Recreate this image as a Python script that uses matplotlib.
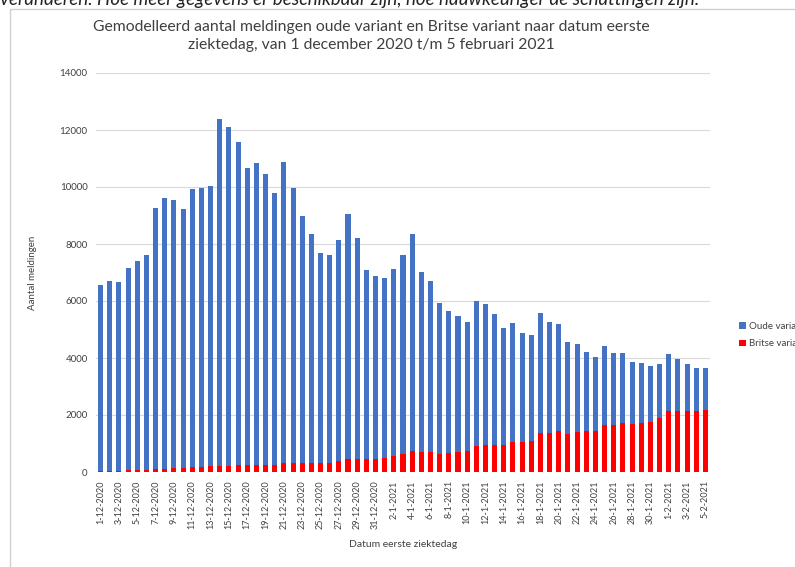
import matplotlib.pyplot as plt
from matplotlib.patches import Rectangle

# dag-labels 1-12-2020 t/m 5-2-2021
dates = [f"{d}-12-2020" for d in range(1, 32)] + [f"{d}-1-2021" for d in range(1, 32)] + [f"{d}-2-2021" for d in range(1, 6)]

britse = [40, 45, 50, 60, 70, 80, 100, 110, 130, 150, 170, 190, 200, 220, 220, 230, 230, 235, 245, 260,
          330, 330, 300, 300, 300, 330, 375, 470, 470, 445, 470, 480, 550, 620, 750, 690, 690, 640, 680, 710,
          750, 910, 960, 960, 945, 1050, 1050, 1100, 1380, 1370, 1440, 1345, 1420, 1430, 1440, 1640, 1660, 1730,
          1685, 1730, 1770, 1885, 2130, 2140, 2130, 2130, 2190]
oude = [6520, 6655, 6600, 7090, 7330, 7540, 9180, 9500, 9420, 9080, 9750, 9780, 9820, 12170, 11890, 11350,
        10440, 10615, 10215, 9520, 10550, 9650, 8670, 8040, 7380, 7270, 7755, 8570, 7750, 6655, 6420, 6310,
        6560, 7000, 7590, 6340, 6010, 5300, 4980, 4750, 4530, 5090, 4940, 4570, 4095, 4190, 3830, 3690, 4210,
        3910, 3740, 3225, 3060, 2790, 2600, 2770, 2530, 2430, 2175, 2100, 1960, 1895, 2000, 1830, 1650, 1520, 1450]

plt.rcParams["font.family"] = ["Lato", "DejaVu Sans"]

fig = plt.figure(figsize=(7.95, 5.67), dpi=100)
ax = fig.add_axes([96 / 795, 1 - 472 / 567, (710 - 96) / 795, (472 - 73) / 567])

x = list(range(len(dates)))
b1 = ax.bar(x, britse, width=0.55, color="#ff0000", label="Britse variant")
b2 = ax.bar(x, oude, width=0.55, bottom=britse, color="#4472c4", label="Oude variant")

ax.set_xlim(-0.5, len(dates) - 0.5)
ax.set_ylim(0, 14000)
ax.set_yticks(range(0, 14001, 2000))
ax.set_yticklabels([str(v) for v in range(0, 14001, 2000)], fontsize=7, color="#404040")
ax.set_xticks(x[::2])
ax.set_xticklabels(dates[::2], rotation=90, fontsize=6.5, color="#404040")
ax.tick_params(axis="both", length=0, pad=6)
ax.grid(axis="y", color="#d9d9d9", linewidth=0.8)
ax.set_axisbelow(True)
for s in ax.spines.values():
    s.set_visible(False)

ax.set_ylabel("Aantal meldingen", fontsize=7, color="#404040", labelpad=16)
ax.set_xlabel("Datum eerste ziektedag", fontsize=7.5, color="#404040", labelpad=8)

fig.text(371 / 795, 1 - 36 / 567,
         "Gemodelleerd aantal meldingen oude variant en Britse variant naar datum eerste\n"
         "ziektedag, van 1 december 2020 t/m 5 februari 2021",
         ha="center", va="center", fontsize=11.3, color="#404040", linespacing=1.45)

fig.text(0, 1 - 5 / 567,
         "veranderen. Hoe meer gegevens er beschikbaar zijn, hoe nauwkeuriger de schattingen zijn.",
         ha="left", va="baseline", fontsize=13.5, style="italic", color="#222222")

fig.patches.append(Rectangle((10 / 795, -0.1), 1.2, 1 - 9 / 567 + 0.1, transform=fig.transFigure,
                             fill=False, edgecolor="#d0d0d0", linewidth=1))

fig.legend(handles=[b2, b1], loc="center left", bbox_to_anchor=(730 / 795, 1 - 335 / 567),
           frameon=False, fontsize=7, handlelength=0.7, handleheight=0.7, handletextpad=0.35,
           labelspacing=0.9, labelcolor="#404040")

fig.savefig("out.png", dpi=100)
